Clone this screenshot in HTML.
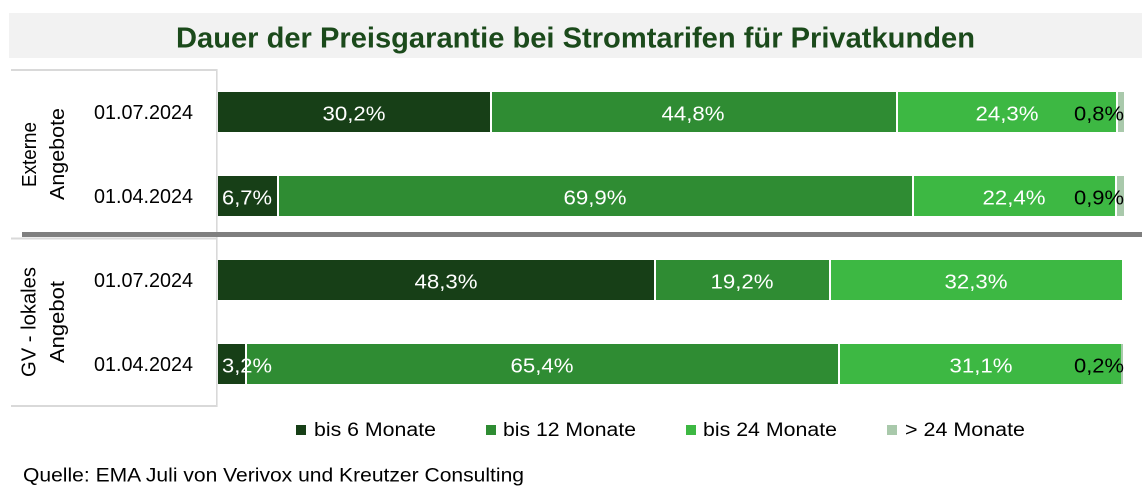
<!DOCTYPE html>
<html><head><meta charset="utf-8"><style>
html,body{margin:0;padding:0;background:#fff;}
svg{display:block;}
text{font-family:"Liberation Sans",sans-serif;}
</style></head><body>
<svg width="1142" height="499" viewBox="0 0 1142 499" xmlns="http://www.w3.org/2000/svg">
<rect x="0" y="0" width="1142" height="499" fill="#fff"/>
<!-- title -->
<rect x="9" y="13" width="1133" height="45" fill="#f2f2f2"/>
<text x="176" y="47.5" font-size="29" font-weight="bold" fill="#1b4a1b" textLength="799" lengthAdjust="spacingAndGlyphs">Dauer der Preisgarantie bei Stromtarifen für Privatkunden</text>

<!-- label boxes -->
<rect x="11" y="69" width="206" height="2" fill="#d9d9d9"/>
<rect x="11" y="237.5" width="206" height="2" fill="#d9d9d9"/>
<rect x="11" y="405" width="206" height="2" fill="#d9d9d9"/>
<rect x="216" y="69" width="1.6" height="338" fill="#d9d9d9"/>

<!-- row 1 -->
<rect x="218" y="92" width="272" height="40" fill="#173f17"/>
<rect x="492" y="92" width="404" height="40" fill="#2f8c33"/>
<rect x="898" y="92" width="218" height="40" fill="#3db843"/>
<rect x="1118" y="92" width="6" height="40" fill="#a9c9ab"/>
<!-- row 2 -->
<rect x="218" y="176" width="59" height="40" fill="#173f17"/>
<rect x="279" y="176" width="633" height="40" fill="#2f8c33"/>
<rect x="914" y="176" width="201" height="40" fill="#3db843"/>
<rect x="1117" y="176" width="7" height="40" fill="#a9c9ab"/>
<!-- row 3 -->
<rect x="218" y="260" width="436" height="40" fill="#173f17"/>
<rect x="656" y="260" width="173" height="40" fill="#2f8c33"/>
<rect x="831" y="260" width="291" height="40" fill="#3db843"/>
<!-- row 4 -->
<rect x="218" y="344" width="27" height="40" fill="#173f17"/>
<rect x="247" y="344" width="591" height="40" fill="#2f8c33"/>
<rect x="840" y="344" width="281" height="40" fill="#3db843"/>
<rect x="1121" y="344" width="2" height="40" fill="#a9c9ab"/>

<!-- separator -->
<rect x="22" y="232" width="1120" height="5" fill="#7f7f7f"/>

<!-- bar labels -->
<g font-size="20" fill="#fff">
<text x="354" y="120.5" text-anchor="middle" textLength="63" lengthAdjust="spacingAndGlyphs">30,2%</text>
<text x="693" y="120.5" text-anchor="middle" textLength="63" lengthAdjust="spacingAndGlyphs">44,8%</text>
<text x="1007" y="120.5" text-anchor="middle" textLength="63" lengthAdjust="spacingAndGlyphs">24,3%</text>
<text x="222" y="204.5" textLength="50" lengthAdjust="spacingAndGlyphs">6,7%</text>
<text x="595" y="204.5" text-anchor="middle" textLength="63" lengthAdjust="spacingAndGlyphs">69,9%</text>
<text x="1014" y="204.5" text-anchor="middle" textLength="63" lengthAdjust="spacingAndGlyphs">22,4%</text>
<text x="446" y="288.5" text-anchor="middle" textLength="63" lengthAdjust="spacingAndGlyphs">48,3%</text>
<text x="742" y="288.5" text-anchor="middle" textLength="63" lengthAdjust="spacingAndGlyphs">19,2%</text>
<text x="976" y="288.5" text-anchor="middle" textLength="63" lengthAdjust="spacingAndGlyphs">32,3%</text>
<text x="222" y="372.5" textLength="50" lengthAdjust="spacingAndGlyphs">3,2%</text>
<text x="542" y="372.5" text-anchor="middle" textLength="63" lengthAdjust="spacingAndGlyphs">65,4%</text>
<text x="981" y="372.5" text-anchor="middle" textLength="63" lengthAdjust="spacingAndGlyphs">31,1%</text>
</g>
<g font-size="20" fill="#000">
<text x="1074" y="120.5" textLength="50" lengthAdjust="spacingAndGlyphs">0,8%</text>
<text x="1074" y="204.5" textLength="50" lengthAdjust="spacingAndGlyphs">0,9%</text>
<text x="1074" y="372.5" textLength="50" lengthAdjust="spacingAndGlyphs">0,2%</text>
</g>

<!-- dates -->
<g font-size="20" fill="#000">
<text x="94" y="119" textLength="99" lengthAdjust="spacingAndGlyphs">01.07.2024</text>
<text x="94" y="203" textLength="99" lengthAdjust="spacingAndGlyphs">01.04.2024</text>
<text x="94" y="287" textLength="99" lengthAdjust="spacingAndGlyphs">01.07.2024</text>
<text x="94" y="371" textLength="99" lengthAdjust="spacingAndGlyphs">01.04.2024</text>
</g>

<!-- group labels -->
<g font-size="20" fill="#000" text-anchor="middle">
<text transform="translate(36,154.5) rotate(-90)" textLength="65" lengthAdjust="spacingAndGlyphs">Externe</text>
<text transform="translate(64,154) rotate(-90)" textLength="92" lengthAdjust="spacingAndGlyphs">Angebote</text>
<text transform="translate(35.5,322) rotate(-90)" textLength="110" lengthAdjust="spacingAndGlyphs">GV - lokales</text>
<text transform="translate(64,322) rotate(-90)" textLength="82" lengthAdjust="spacingAndGlyphs">Angebot</text>
</g>

<!-- legend -->
<rect x="296" y="425" width="10" height="10" fill="#173f17"/>
<rect x="486" y="425" width="10" height="10" fill="#2f8c33"/>
<rect x="686" y="425" width="10" height="10" fill="#3db843"/>
<rect x="887" y="425" width="10" height="10" fill="#a9c9ab"/>
<g font-size="19" fill="#000">
<text x="314" y="436" textLength="122" lengthAdjust="spacingAndGlyphs">bis 6 Monate</text>
<text x="503" y="436" textLength="133" lengthAdjust="spacingAndGlyphs">bis 12 Monate</text>
<text x="703" y="436" textLength="134" lengthAdjust="spacingAndGlyphs">bis 24 Monate</text>
<text x="905" y="436" textLength="120" lengthAdjust="spacingAndGlyphs">&gt; 24 Monate</text>
</g>

<!-- source -->
<text x="23" y="481.5" font-size="19" fill="#000" textLength="501" lengthAdjust="spacingAndGlyphs">Quelle: EMA Juli von Verivox und Kreutzer Consulting</text>
</svg>
</body></html>
